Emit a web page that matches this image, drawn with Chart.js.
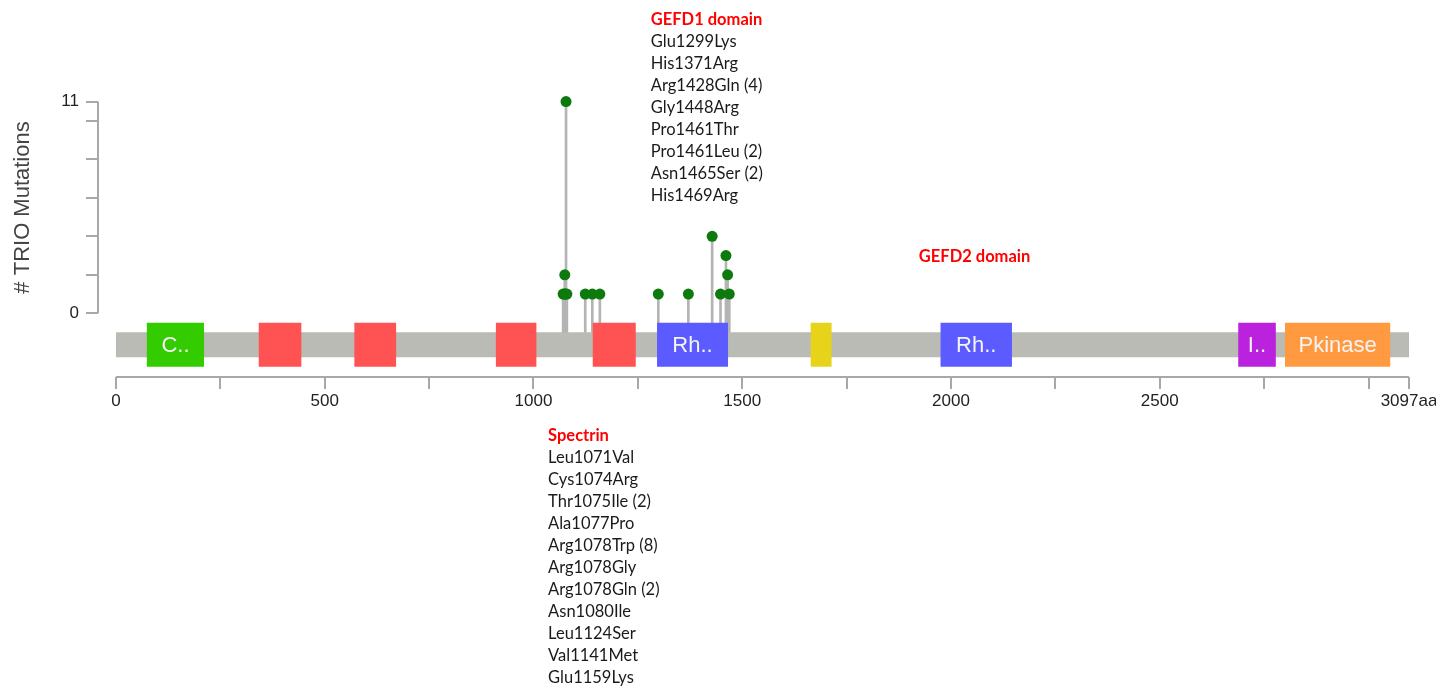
<!DOCTYPE html>
<html lang="en">
<head>
<meta charset="UTF-8">
<title>TRIO Mutations</title>
<script src="https://cdn.jsdelivr.net/npm/chart.js"></script>
<style>
  body { margin: 0; background: #fff; }
  .chart-container { width: 1436px; height: 687px; }
</style>
</head>
<body>
<div class="chart-container"><canvas id="mutationChart"></canvas></div>
<script>
// mutation positions (aa) and number of mutations at each position
const mutPositions = [1071, 1074, 1075, 1077, 1078, 1080, 1124, 1141, 1159, 1299, 1371, 1428, 1448, 1461, 1465, 1469];
const mutCounts    = [1, 1, 2, 1, 11, 1, 1, 1, 1, 1, 1, 4, 1, 3, 2, 1];

// protein domains
const proteinLength = 3097;
const domainStarts = [74, 342, 571, 910, 1142, 1296, 1664, 1975, 2688, 2800];
const domainEnds   = [211, 444, 671, 1007, 1245, 1466, 1714, 2146, 2778, 3052];
const domainLabels = ['C..', '', '', '', '', 'Rh..', '', 'Rh..', 'I..', 'Pkinase'];
const domainColors = ['#33cc00', '#ff5252', '#ff5252', '#ff5252', '#ff5252', '#5b5bff', '#e8d31b', '#5b5bff', '#bb22dd', '#ff9a40'];

// ticks (labels shown only on 0, 500, ... and the protein end)
const xTicks = [0, 250, 500, 750, 1000, 1250, 1500, 1750, 2000, 2250, 2500, 2750, 3000, 3097];
const xLabelTicks = [0, 500, 1000, 1500, 2000, 2500];
const yTicks = [0, 2, 4, 6, 8, 10, 11];

// annotation texts
const spectrinNotes = ['Leu1071Val', 'Cys1074Arg', 'Thr1075Ile (2)', 'Ala1077Pro', 'Arg1078Trp (8)', 'Arg1078Gly',
  'Arg1078Gln (2)', 'Asn1080Ile', 'Leu1124Ser', 'Val1141Met', 'Glu1159Lys'];
const gefd1Notes = ['Glu1299Lys', 'His1371Arg', 'Arg1428Gln (4)', 'Gly1448Arg', 'Pro1461Thr', 'Pro1461Leu (2)',
  'Asn1465Ser (2)', 'His1469Arg'];

// layout of the annotation blocks (anchor in aa / y value)
const notes = [
  { title: 'GEFD1 domain', lines: gefd1Notes, x: 1281, y: 15.24 },
  { title: 'Spectrin', lines: spectrinNotes, x: 1035, y: -6.38 },
  { title: 'GEFD2 domain', lines: [], x: 1923, y: 2.93 }
];
const BAR_TOP = -0.99, BAR_BOTTOM = -2.29;
const BOX_TOP = -0.49, BOX_BOTTOM = -2.78;
const STEM_BASE = -1;

Chart.defaults.font.family = '"Liberation Sans", Arial, sans-serif';

function rect(x0, x1, y0, y1) {
  return [{ x: x0, y: y0 }, { x: x1, y: y0 }, { x: x1, y: y1 }, { x: x0, y: y1 }, { x: x0, y: y0 }];
}

const domainSets = domainStarts.map((s, i) => ({
  type: 'line',
  data: rect(s, domainEnds[i], BOX_TOP, BOX_BOTTOM),
  backgroundColor: domainColors[i],
  borderColor: 'rgba(0,0,0,0)',
  borderWidth: 0,
  pointRadius: 0,
  fill: 'shape',
  tension: 0,
  order: 1
}));

const overlayPlugin = {
  id: 'overlay',
  afterDatasetsDraw(chart) {
    const { ctx, chartArea } = chart;
    const x = chart.scales.x, y = chart.scales.y;
    ctx.save();
    // axis lines
    ctx.strokeStyle = '#a8a8a8';
    ctx.lineWidth = 2;
    ctx.beginPath();
    ctx.moveTo(x.getPixelForValue(0), chartArea.bottom);
    ctx.lineTo(x.getPixelForValue(proteinLength), chartArea.bottom);
    ctx.moveTo(chartArea.left, y.getPixelForValue(0));
    ctx.lineTo(chartArea.left, y.getPixelForValue(11));
    ctx.stroke();

    // domain labels
    ctx.fillStyle = '#f4f4f4';
    ctx.font = '22px "Liberation Sans", Arial, sans-serif';
    ctx.textAlign = 'center';
    ctx.textBaseline = 'middle';
    domainLabels.forEach((lab, i) => {
      if (!lab) return;
      const cx = (x.getPixelForValue(domainStarts[i]) + x.getPixelForValue(domainEnds[i])) / 2;
      const cy = y.getPixelForValue((BOX_TOP + BOX_BOTTOM) / 2);
      ctx.fillText(lab, cx, cy + 1);
    });

    // y axis title
    ctx.save();
    ctx.translate(23, (y.getPixelForValue(0) + y.getPixelForValue(11)) / 2);
    ctx.rotate(-Math.PI / 2);
    ctx.fillStyle = '#444';
    ctx.font = '22px "Liberation Sans", Arial, sans-serif';
    ctx.fillText('# TRIO Mutations', 0, 0);
    ctx.restore();

    // annotation blocks
    ctx.textAlign = 'left';
    notes.forEach(n => {
      const px = x.getPixelForValue(n.x);
      let py = y.getPixelForValue(n.y);
      ctx.fillStyle = '#ff0000';
      ctx.font = 'bold 16.5px Lato, sans-serif';
      ctx.fillText(n.title, px, py);
      ctx.fillStyle = '#1a1a1a';
      ctx.font = '16.5px Lato, sans-serif';
      n.lines.forEach(t => {
        py += 22;
        ctx.fillText(t, px, py);
      });
    });
    ctx.restore();
  }
};

const ctx = document.getElementById('mutationChart').getContext('2d');
const chart = new Chart(ctx, {
  type: 'scatter',
  data: {
    datasets: [
      {
        type: 'scatter',
        data: mutPositions.map((p, i) => ({ x: p, y: mutCounts[i] })),
        backgroundColor: '#0c7a0c',
        borderWidth: 0,
        pointRadius: 5.5,
        pointHoverRadius: 5.5,
        clip: false,
        order: 0
      },
      ...domainSets,
      {
        type: 'line',
        data: rect(0, proteinLength, BAR_TOP, BAR_BOTTOM),
        backgroundColor: '#b9bbb4',
        borderColor: 'rgba(0,0,0,0)',
        borderWidth: 0,
        pointRadius: 0,
        fill: 'shape',
        tension: 0,
        clip: false,
        order: 2
      },
      {
        type: 'bar',
        data: mutPositions.map((p, i) => ({ x: p, y: [STEM_BASE, mutCounts[i]] })),
        backgroundColor: '#b4b4b4',
        borderWidth: 0,
        barThickness: 2,
        order: 3
      }
    ]
  },
  options: {
    responsive: true,
    maintainAspectRatio: false,
    animation: false,
    layout: { padding: { top: 92, right: 27, left: 0, bottom: 0 } },
    plugins: { legend: { display: false }, tooltip: { enabled: false } },
    scales: {
      x: {
        type: 'linear',
        min: -43,
        max: proteinLength,
        offset: false,
        border: { display: false },
        grid: { drawOnChartArea: false, drawTicks: true, tickLength: 12, color: '#a8a8a8', lineWidth: 2, offset: false },
        afterBuildTicks: s => { s.ticks = xTicks.map(v => ({ value: v })); },
        afterFit: s => { s.height = 310; s.paddingLeft = 0; s.paddingRight = 0; },
        ticks: {
          autoSkip: false,
          maxRotation: 0,
          padding: 2,
          color: '#222',
          font: { size: 17 },
          callback: v => v === proteinLength ? v + 'aa' : (xLabelTicks.includes(v) ? String(v) : '')
        }
      },
      y: {
        type: 'linear',
        min: -3.31,
        max: 11.5,
        border: { display: false },
        grid: { drawOnChartArea: false, drawTicks: true, tickLength: 12, color: '#a8a8a8', lineWidth: 2 },
        afterBuildTicks: s => { s.ticks = yTicks.map(v => ({ value: v })); },
        afterFit: s => { s.width = 98; s.paddingTop = 0; s.paddingBottom = 0; },
        ticks: {
          autoSkip: false,
          padding: 7,
          color: '#222',
          font: { size: 17 },
          callback: v => (v === 0 || v === 11) ? String(v) : ''
        }
      }
    }
  },
  plugins: [overlayPlugin]
});
</script>
</body>
</html>
